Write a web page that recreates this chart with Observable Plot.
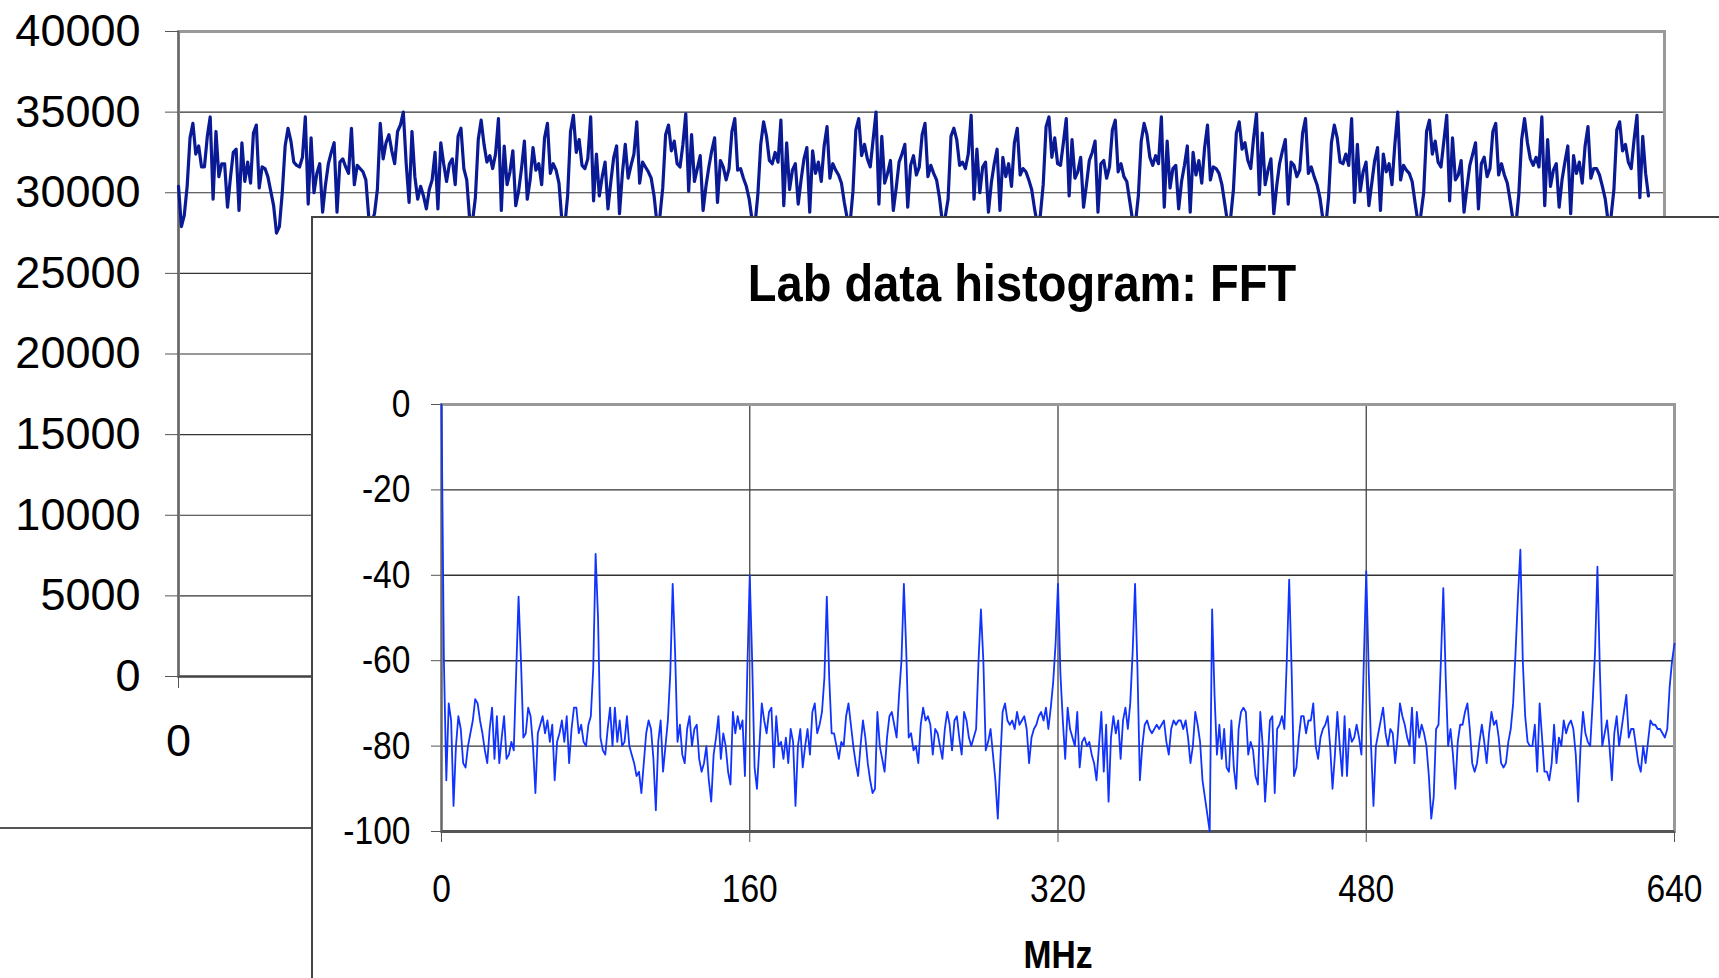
<!DOCTYPE html>
<html><head><meta charset="utf-8">
<script src="https://cdn.jsdelivr.net/npm/d3@7"></script>
<script src="https://cdn.jsdelivr.net/npm/@observablehq/plot@0.6"></script>
<style>
html,body{margin:0;padding:0;background:#fff;}
body{width:1719px;height:978px;overflow:hidden;position:relative;font-family:"Liberation Sans",Arial,sans-serif;}
#bg{position:absolute;left:0;top:0;}
#frameLine{position:absolute;left:0;top:827px;width:313px;border-top:2px solid #555;}
#box{position:absolute;left:311px;top:216px;width:1440px;height:800px;background:#fff;border-left:2px solid #444;border-top:2px solid #444;}
#title{position:absolute;left:312px;width:1420px;top:259px;text-align:center;font-weight:bold;font-size:47px;line-height:1;color:#000;transform:scaleY(1.12);transform-origin:50% 50%;}
#fft{position:absolute;left:312px;top:217px;}
</style></head><body>
<div id="bg"></div><div id="frameLine"></div><div id="box"></div><div id="title"></div><div id="fft"></div>
<script>
// ---- Background chart: lab data histogram (counts per code) ----
const histCounts = [30400,
27900,28600,30400,33400,34300,32400,32900,31600,31600,33500,34700,29600,33800,31000,31800,31800,29100,30900,32500,32700,28900,33100,30700,31900,30600,33700,34200,30300,31600,31500,31000,30100,29200,
27500,27900,30000,32900,34000,33200,31900,31700,31600,32200,34700,29300,33400,30000,31200,31800,28800,30500,31800,32500,33100,28800,31900,32100,31600,31200,34000,30500,31700,31500,31300,30800,28500,
28200,28700,30200,34300,32100,33100,33600,32600,31800,33800,34200,35000,31800,29400,33800,31000,29600,30400,29800,29000,30200,30800,32500,29000,33100,31800,30700,31800,32100,30500,33500,34000,31500,
30800,28400,28200,29700,33300,34500,33000,31900,32300,31500,32400,34600,28900,32900,30500,31300,32600,29200,30100,31500,33200,29600,30800,32800,31400,31800,30500,33400,34300,31200,31800,31400,30600,
28300,27900,29800,33800,34800,32500,33300,31700,31500,32100,34700,29500,32400,29800,31000,31900,29000,30700,32200,32900,28700,31200,33000,30900,31700,32400,34400,30600,31900,31600,31300,30900,29800,
28100,28500,30300,33600,34200,32600,33200,31800,31600,33000,34900,30100,33600,30700,31500,32300,28900,30400,31600,32600,33400,29400,32000,31600,30800,31500,33800,34600,31400,31500,30900,30400,29600,
28300,28000,29900,33000,34400,33500,32000,31800,32500,31900,34500,29200,33100,30200,31400,31800,29300,30800,32100,32800,28800,32600,31200,31900,30700,32900,34100,30900,31800,31400,31100,30600,29400,
28400,28100,30100,33900,34600,32300,33000,32100,31600,33300,35000,29300,33500,30600,31200,32000,28900,30300,31900,32400,33000,29100,31700,32300,31100,31600,33600,34300,31000,31700,31200,30800,29700,
28200,28500,29600,33500,34000,33300,31700,31900,31500,32400,34800,29600,32700,30000,31600,31900,28800,30600,31800,32700,28900,32200,31000,31800,30400,33100,34000,31100,31500,31300,30800,30200,29000,
28000,28600,30500,34100,34700,32200,33400,31800,31700,33100,34600,29800,33300,30900,31300,32200,29100,30500,32000,32500,33200,28800,31800,32000,30900,31600,33900,34500,31300,31800,31000,30700,29500,
28300,28100,29800,33200,34300,33600,32200,31700,32300,31800,34700,29100,33200,30300,31500,31700,29000,30700,31700,32900,28800,32500,31100,32000,30600,32800,34200,30800,31600,31500,31200,30500,29300,
28100,28400,30200,33700,34400,32700,33100,32000,31500,33400,34900,29900,33700,30500,31400,32100,28700,30400,31800,32600,33300,29300,31900,31700,31000,31400,33700,34600,31200,31600,31000,30500,29700,
28400,27900,29700,33100,34200,33400,31900,31800,32400,31700,34600,29400,33000,30100,31300,31900,29200,30600,32000,32800,28900,32400,31300,31800,30500,33000,35000,30800,31700,31400,31200,30700,29400,
28200,28600,30000,33800,34500,32400,33200,31900,31600,33200,34800,29500,33400,30800,31100,32000,28800,30300,31700,32400,33100,29000,31800,32200,31000,31500,33800,34300,31100,31800,31100,30600,29500,
28300,28000,29900,33300,34600,33100,32100,31700,32200,31600,34700,29200,33300,30400,31400,31800,29100,30800,31900,32900,28700,32300,31200,31900,30600,32900,34100,30900,31500,31500,31100,30400,29600,
28200,28500,30200,33900,34400,32600,33000,31900,31500,33300,34800,29700,33500,31200,29800];
const histYTicks = [0,5000,10000,15000,20000,25000,30000,35000,40000];
const histXTicks = [0];

// ---- Foreground chart: FFT of the lab data (dB vs MHz) ----
const fftTitle = "Lab data histogram: FFT";
const fftXLabel = "MHz";
const fftStepMHz = 1.25;
const fftDb = [
0,-60,-88,-70,-74,-94,-80,-73,-76,-84,-85,-80,-77,-74,-69,-70,-74,-77,-81,-84,-76,-71,-83,-73,-84,-78,-73,-83,-82,-79,-81,-63,
-45,-60,-78,-77,-71,-73,-80,-91,-77,-75,-73,-77,-74,-79,-75,-88,-79,-77,-74,-79,-73,-84,-76,-71,-71,-77,-75,-79,-80,-75,-73,-62,
-35,-50,-78,-81,-82,-76,-71,-80,-71,-79,-74,-80,-79,-73,-80,-82,-84,-87,-86,-91,-84,-77,-74,-76,-83,-95,-79,-74,-86,-80,-74,-63,
-42,-58,-79,-75,-82,-84,-76,-73,-80,-76,-75,-83,-86,-84,-80,-88,-93,-82,-78,-73,-83,-77,-80,-86,-89,-72,-77,-73,-76,-74,-87,-62,
-40,-60,-85,-90,-80,-70,-74,-77,-72,-71,-85,-73,-80,-79,-83,-78,-84,-76,-79,-94,-80,-76,-85,-80,-76,-82,-72,-70,-77,-75,-72,-64,
-45,-64,-77,-77,-80,-83,-79,-80,-73,-70,-75,-80,-84,-87,-80,-74,-78,-84,-88,-91,-90,-72,-80,-83,-86,-78,-73,-72,-75,-78,-68,-60,
-42,-58,-78,-77,-81,-80,-84,-75,-71,-74,-73,-75,-82,-76,-77,-80,-83,-76,-72,-75,-81,-74,-73,-78,-82,-72,-74,-78,-80,-78,-76,-60,
-48,-60,-81,-79,-76,-82,-88,-97,-84,-72,-70,-74,-75,-74,-76,-72,-75,-74,-73,-76,-84,-78,-76,-75,-73,-72,-74,-71,-76,-71,-65,-56,
-42,-63,-74,-83,-71,-76,-78,-80,-72,-85,-79,-78,-80,-79,-82,-84,-88,-80,-72,-86,-75,-93,-78,-73,-77,-74,-83,-74,-71,-76,-70,-58,
-42,-62,-88,-80,-75,-74,-76,-77,-76,-75,-76,-75,-74,-79,-82,-76,-74,-75,-74,-74,-76,-74,-78,-84,-80,-72,-75,-79,-88,-92,-96,-100,
-48,-68,-82,-75,-83,-76,-85,-86,-74,-85,-90,-76,-72,-71,-72,-82,-79,-81,-87,-89,-72,-80,-93,-84,-74,-73,-91,-76,-75,-73,-76,-60,
-41,-62,-87,-85,-78,-73,-73,-77,-74,-74,-70,-80,-83,-78,-76,-75,-73,-80,-90,-82,-72,-80,-87,-73,-87,-76,-79,-78,-75,-78,-82,-60,
-39,-62,-80,-94,-80,-77,-74,-71,-77,-80,-76,-77,-84,-78,-70,-73,-75,-78,-80,-71,-84,-72,-78,-75,-77,-80,-87,-97,-92,-76,-75,-60,
-43,-64,-80,-76,-82,-90,-79,-75,-75,-72,-70,-76,-84,-86,-84,-79,-75,-79,-84,-77,-72,-75,-74,-78,-84,-85,-84,-79,-76,-70,-58,-45,
-34,-60,-73,-79,-80,-80,-75,-86,-70,-78,-86,-86,-88,-84,-75,-84,-78,-80,-74,-77,-75,-74,-76,-82,-93,-80,-72,-77,-79,-80,-70,-58,
-38,-62,-80,-77,-74,-80,-88,-77,-73,-80,-76,-72,-68,-78,-76,-76,-80,-84,-86,-80,-84,-79,-74,-75,-75,-76,-76,-77,-78,-76,-66,-60,
-56];
const fftXTicks = [0,160,320,480,640];
const fftYTicks = [0,-20,-40,-60,-80,-100];

const FONT = '"Liberation Sans", Arial, sans-serif';

// Background chart
const hist = histCounts.map((v, i) => ({code: i, count: v}));
const histXMax = (histCounts.length - 1) * (1486.4 / 1470.4);
const bg = Plot.plot({
  width: 1719, height: 978,
  marginLeft: 178, marginRight: 55, marginTop: 31, marginBottom: 302,
  style: {fontFamily: FONT, fontSize: "45px", color: "#000", background: "transparent", overflow: "visible"},
  x: {domain: [0, histXMax], label: null},
  y: {domain: [0, 40000], label: null},
  marks: [
    Plot.ruleY(histYTicks.filter(d => d > 0 && d < 40000), {stroke: "#333", strokeWidth: 1.2}),
    Plot.frame({stroke: "#999", strokeWidth: 3}),
    Plot.ruleY([0], {stroke: "#444", strokeWidth: 2}),
    Plot.ruleX([0], {stroke: "#666", strokeWidth: 2}),
    Plot.line(hist, {x: "code", y: "count", stroke: "#0a1a94", strokeWidth: 3.2}),
    Plot.axisY({ticks: histYTicks, tickFormat: d => String(d), tickSize: 13, tickPadding: 25, fontSize: 45, label: null, stroke: "#555"}),
    Plot.axisX({ticks: histXTicks, tickFormat: d => String(d), tickSize: 12, tickPadding: 36, fontSize: 45, label: null, stroke: "#555"})
  ]
});
document.getElementById("bg").append(bg);

// Foreground FFT chart
document.getElementById("title").textContent = fftTitle;
const fft = fftDb.map((v, i) => ({mhz: i * fftStepMHz, db: v}));
const fg = Plot.plot({
  width: 1407, height: 761,
  marginLeft: 129, marginRight: 45, marginTop: 187, marginBottom: 147,
  style: {fontFamily: FONT, fontSize: "35px", color: "#000", background: "transparent", overflow: "visible"},
  x: {domain: [0, 640], label: null},
  y: {domain: [-100, 0], label: null},
  marks: [
    Plot.ruleY(fftYTicks.filter(d => d < 0 && d > -100), {stroke: "#333", strokeWidth: 1.4}),
    Plot.ruleX(fftXTicks.filter(d => d > 0 && d < 640), {stroke: "#444", strokeWidth: 1.3}),
    Plot.frame({stroke: "#999", strokeWidth: 3}),
    Plot.ruleY([-100], {stroke: "#555", strokeWidth: 3}),
    Plot.ruleX([0], {stroke: "#666", strokeWidth: 1.5}),
    Plot.line(fft, {x: "mhz", y: "db", stroke: "#1133ff", strokeWidth: 1.8}),
    Plot.axisY({ticks: fftYTicks, tickFormat: d => String(d), tickSize: 10, tickPadding: 21, fontSize: 35, label: null, stroke: "#555"}),
    Plot.axisX({ticks: fftXTicks, tickFormat: d => String(d), tickSize: 11, tickPadding: 32, fontSize: 35, label: null, stroke: "#555"}),
    Plot.text([fftXLabel], {text: d => d, frameAnchor: "bottom", dy: 124, fontWeight: "bold", fontSize: 35, lineAnchor: "middle", fill: "#000"})
  ]
});
// the reference's inner chart text is drawn slightly tall and narrow
fg.querySelectorAll("text").forEach(t => {
  const tr = t.getAttribute("transform");
  if (tr && tr.includes("translate")) t.setAttribute("transform", tr + " scale(0.96,1.12)");
});
document.getElementById("fft").append(fg);
</script>
</body></html>
